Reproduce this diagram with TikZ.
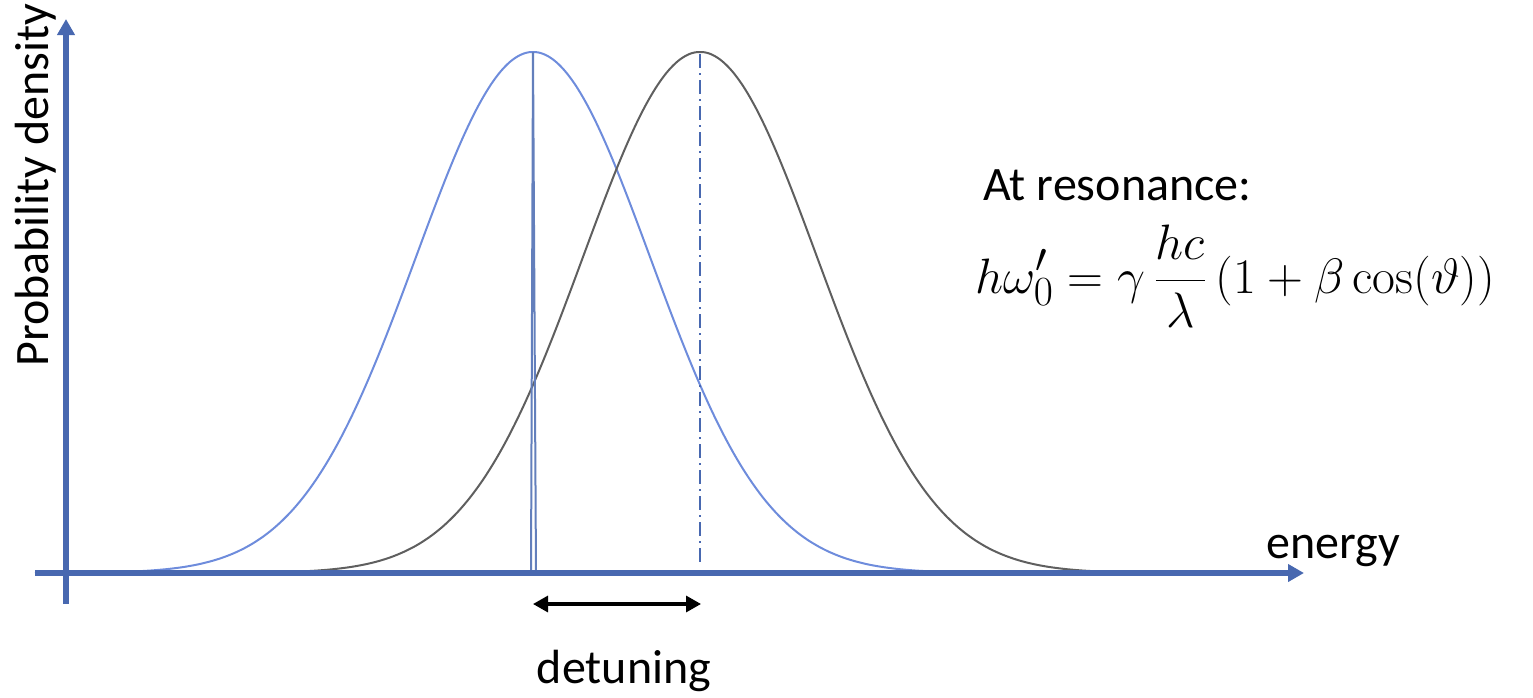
\documentclass[tikz,border=0pt]{standalone}
\usepackage[no-math]{fontspec}
\setmainfont{Carlito}
\usetikzlibrary{arrows.meta}
\definecolor{axisblue}{RGB}{72,104,176}
\definecolor{curveblue}{RGB}{110,140,220}
\definecolor{curvegray}{RGB}{95,95,95}
\tikzset{
  axisline/.style={draw=axisblue, line width=2.75pt, -{Triangle[length=8pt,width=8.5pt]}},
  gauss/.style={line width=1pt, domain=35:1170, samples=240, smooth},
  spikeline/.style={draw=axisblue!85!white, line width=1pt, line join=miter},
  dashdotline/.style={draw=axisblue, line width=1pt, dash pattern=on 7pt off 2.5pt on 1pt off 2.5pt},
  detarrow/.style={draw=black, line width=1.6pt, {Triangle[length=7.5pt,width=8pt]}-{Triangle[length=7.5pt,width=8pt]}},
  lbl/.style={font=\fontsize{24}{29}\selectfont, inner sep=0pt},
  eqlbl/.style={font=\fontsize{29}{35}\selectfont, inner sep=0pt}
}
\begin{document}
\begin{tikzpicture}[x=0.5pt,y=-0.5pt]
\useasboundingbox (0,0) rectangle (1533,697);
% curves
\draw[gauss, curveblue] plot (\x, {573-521*exp(-0.5*((\x-533)/117)^2)});
\draw[gauss, curvegray] plot (\x, {573-521*exp(-0.5*((\x-700)/117)^2)});
% narrow spike
\coordinate (spL) at (531,573);
\coordinate (spT) at (533,52);
\coordinate (spR) at (536,573);
\draw[spikeline] (spL) -- (spT) -- (spR);
% dash-dot line
\coordinate (ddT) at (700,54);
\coordinate (ddB) at (700,566);
\draw[dashdotline] (ddT) -- (ddB);
% axes
\coordinate (yb) at (66,604);
\coordinate (yt) at (66,19);
\coordinate (xl) at (35,573);
\coordinate (xr) at (1304,573);
\draw[axisline] (yb) -- (yt);
\draw[axisline] (xl) -- (xr);
% detuning arrow
\coordinate (dL) at (533,604);
\coordinate (dR) at (701,604);
\draw[detarrow] (dL) -- (dR);
% labels
\node[lbl, rotate=90, anchor=base] (ylab) at (48,185) {Probability density};
\node[lbl, anchor=base west] (xlab) at (1266,558) {energy};
\node[lbl, anchor=base] (det) at (624,683) {detuning};
\node[lbl, anchor=base west] (res) at (983,200) {At resonance:};
\node[eqlbl, anchor=west] (eq) at (975,276) {$\displaystyle h\omega_0' = \gamma\,\frac{hc}{\lambda}\,(1+\beta\cos(\vartheta))$};
\end{tikzpicture}
\end{document}
